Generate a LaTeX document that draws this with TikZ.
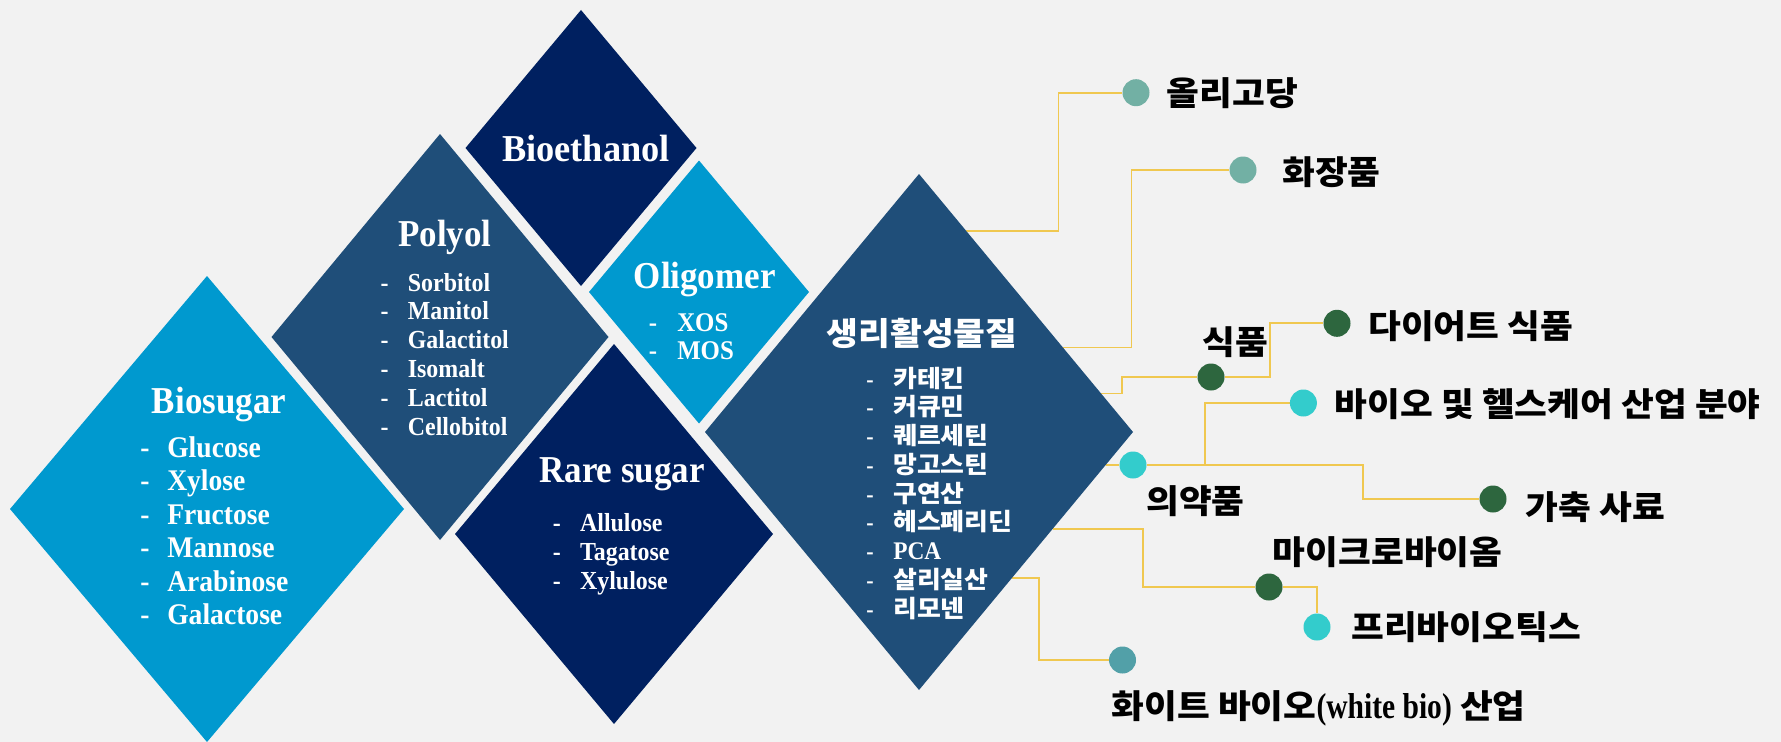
\documentclass[tikz,border=0pt]{standalone}
\usepackage{fontspec}
\usetikzlibrary{shapes.geometric,calc}
\newfontfamily\gar{Liberation Serif}[FakeStretch=0.92]
\newfontfamily\garc{Liberation Serif}[FakeStretch=0.82]
\newfontfamily\kr{Noto Sans CJK KR}[FakeStretch=1.08]
\definecolor{bgc}{RGB}{242,242,242}
\definecolor{lblue}{RGB}{0,153,207}
\definecolor{mblue}{RGB}{31,78,121}
\definecolor{navy}{RGB}{0,32,96}
\definecolor{linec}{RGB}{240,200,80}
\definecolor{tgray}{RGB}{114,176,164}
\definecolor{dgreen}{RGB}{45,102,62}
\definecolor{cyanc}{RGB}{51,204,204}
\definecolor{tealc}{RGB}{82,160,168}
\pgfdeclarelayer{back}
\pgfsetlayers{back,main}
\tikzset{
  dia/.style={diamond, inner sep=0pt, outer sep=0pt, draw=none},
  ttl/.style={anchor=base, inner sep=0pt, text=white, font=\gar\bfseries\fontsize{28.5}{30}\selectfont},
  conn/.style={draw=linec, line width=1.3pt},
  dot/.style={circle, inner sep=0pt, minimum size=20.25pt, draw=none},
  lbl/.style={anchor=west, inner sep=0pt, text=black, font=\kr\bfseries\fontsize{24.75}{28}\selectfont},
  itm/.style={anchor=base west, inner sep=0pt, text=white}
}
\begin{document}
\begin{tikzpicture}[x=0.75pt,y=-0.75pt]
\begin{pgfonlayer}{back}
\fill[bgc] (0,0) rectangle (1781,742);
\end{pgfonlayer}
\useasboundingbox (0,0) rectangle (1781,742);

% diamonds
\node[dia, fill=lblue, minimum width=295.5pt, minimum height=349.5pt] (biosugar) at (207,509) {};
\node[dia, fill=mblue, minimum width=252.75pt, minimum height=304.5pt] (polyol) at (440,337) {};
\node[dia, fill=navy, minimum width=173.25pt, minimum height=207pt] (bioeth) at (581,148) {};
\node[dia, fill=lblue, minimum width=165pt, minimum height=197.25pt] (oligo) at (699,292) {};
\node[dia, fill=navy, minimum width=238.5pt, minimum height=285pt] (rare) at (614,534) {};
\node[dia, fill=mblue, minimum width=321pt, minimum height=387pt] (sd) at (919,432) {};

% titles
\node[ttl] (t-bio) at (219,413.5) {Biosugar};
\node[ttl] (t-pol) at (445,246) {Polyol};
\node[ttl, xscale=1.04] (t-eth) at (586,161) {Bioethanol};
\node[ttl] (t-oli) at (704.7,288.7) {Oligomer};
\node[ttl] (t-rar) at (622,482.7) {Rare sugar};
\node[anchor=base, inner sep=0pt, text=white, font=\kr\bfseries\fontsize{24}{26}\selectfont] (t-sd) at (922,345) {생리활성물질};

% lists
\foreach \t [count=\i from 0] in {Glucose,Xylose,Fructose,Mannose,Arabinose,Galactose}
  \node[itm, font=\gar\bfseries\fontsize{22.5}{24}\selectfont] (bio-\i) at (140,{457.3+33.5*\i}) {\makebox[20.25pt][l]{-}\t};
\foreach \t [count=\i from 0] in {Sorbitol,Manitol,Galactitol,Isomalt,Lactitol,Cellobitol}
  \node[itm, font=\gar\bfseries\fontsize{19.5}{21}\selectfont] (pol-\i) at (380.3,{291+28.85*\i}) {\makebox[20.5pt][l]{-}\t};
\foreach \t [count=\i from 0] in {XOS,MOS}
  \node[itm, font=\gar\bfseries\fontsize{20.25}{22}\selectfont] (oli-\i) at (648.5,{331+28.7*\i}) {\makebox[21.4pt][l]{-}\t};
\foreach \t [count=\i from 0] in {Allulose,Tagatose,Xylulose}
  \node[itm, font=\gar\bfseries\fontsize{19.5}{21}\selectfont] (rar-\i) at (552.5,{531+29*\i}) {\makebox[20.5pt][l]{-}\t};
\foreach \t [count=\i from 0] in {카테킨,커큐민,퀘르세틴,망고스틴,구연산,헤스페리딘,{\gar\fontsize{19}{20}\selectfont PCA},살리실산,리모넨}
  \node[itm, font=\kr\bfseries\fontsize{18}{20}\selectfont] (sd-\i) at (866,{387+28.75*\i}) {\makebox[20.25pt][l]{\gar\bfseries -}\t};

% dots
\node[dot, fill=tgray] (d1) at (1136,92.7) {};
\node[dot, fill=tgray] (d2) at (1243,170) {};
\node[dot, fill=dgreen] (d3) at (1211,377) {};
\node[dot, fill=dgreen] (d4) at (1337,323.3) {};
\node[dot, fill=cyanc] (d5) at (1133,465) {};
\node[dot, fill=dgreen] (d6) at (1493,499) {};
\node[dot, fill=cyanc] (d7) at (1303.4,403) {};
\node[dot, fill=dgreen] (d8) at (1269,587) {};
\node[dot, fill=cyanc] (d9) at (1317,627) {};
\node[dot, fill=tealc] (d10) at (1122.5,660) {};

% connectors
\begin{pgfonlayer}{back}
\draw[conn] ($(sd.north)!0.22!(sd.east)$) -| ($(d1)+(-77.6,0)$) -- (d1);
\draw[conn] ($(sd.north)!0.672!(sd.east)$) -| ($(d2)+(-111.5,0)$) -- (d2);
\draw[conn] ($(sd.north)!0.851!(sd.east)$) -| ($(d3)+(-89,0)$) -- (d3);
\draw[conn] (d3) -| ($(d4)+(-67,0)$) -- (d4);
\draw[conn] ($(sd.east)!0.128!(sd.south)$) -- (d5);
\draw[conn] (d5) -| ($(d6)+(-130,0)$) -- (d6);
\draw[conn] ($(d5)+(72,0)$) |- (d7);
\draw[conn] ($(sd.east)!0.376!(sd.south)$) -| ($(d8)+(-126.3,0)$) -- (d8);
\draw[conn] (d8) -| (d9);
\draw[conn] ($(sd.east)!0.565!(sd.south)$) -| ($(d10)+(-83.7,0)$) -- (d10);
\end{pgfonlayer}

% labels
\node[lbl] (l1) at (1166.5,92.8) {올리고당};
\node[lbl] (l2) at (1282,171.7) {화장품};
\node[lbl] (l3) at (1202,342) {식품};
\node[lbl] (l4) at (1368,326) {다이어트 식품};
\node[lbl] (l7) at (1334.4,404) {바이오 및 헬스케어 산업 분야};
\node[lbl] (l5) at (1146,501) {의약품};
\node[lbl] (l6) at (1525.4,506.7) {가축 사료};
\node[lbl] (l8) at (1272.6,552.5) {마이크로바이옴};
\node[lbl] (l9) at (1351,627.5) {프리바이오틱스};
\node[lbl] (l10) at (1111.4,708) {화이트 바이오{\garc\bfseries\fontsize{27}{28}\selectfont(white bio)} 산업};
\end{tikzpicture}
\end{document}
